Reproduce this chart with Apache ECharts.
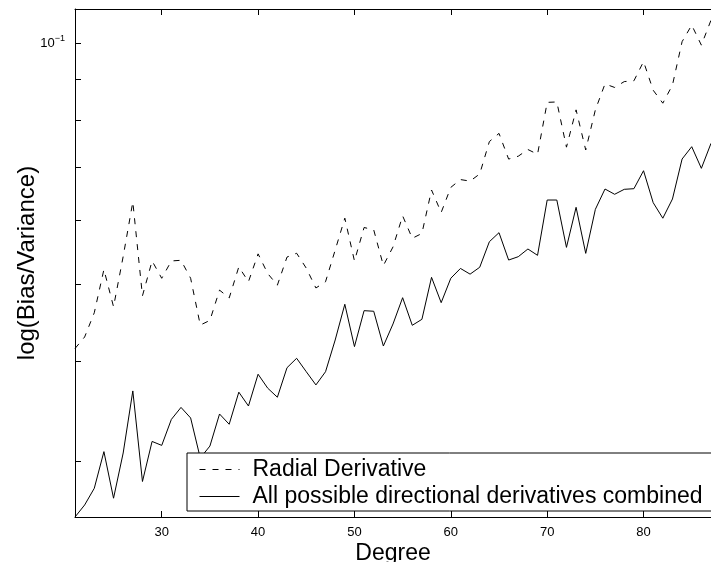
<!DOCTYPE html>
<html>
<head>
<meta charset="utf-8">
<script src="https://cdn.jsdelivr.net/npm/echarts@6/dist/echarts.min.js"></script>
<style>
html,body{margin:0;padding:0;background:#fff;}
#chart{width:711px;height:562px;}
</style>
</head>
<body>
<div id="chart"></div>
<script>
const degrees = [21,22,23,24,25,26,27,28,29,30,31,32,33,34,35,36,37,38,39,40,41,42,43,44,45,46,47,48,49,50,51,52,53,54,55,56,57,58,59,60,61,62,63,64,65,66,67,68,69,70,71,72,73,74,75,76,77,78,79,80,81,82,83,84,85,86,87];
const radialDerivative = [0.0415,0.0429,0.0460,0.0521,0.0468,0.0541,0.0633,0.0483,0.0534,0.0508,0.0534,0.0535,0.0508,0.0444,0.0450,0.0491,0.0480,0.0525,0.0503,0.0545,0.0515,0.0498,0.0540,0.0546,0.0523,0.0494,0.0503,0.0551,0.0604,0.0534,0.0588,0.0584,0.0527,0.0556,0.0608,0.0570,0.0578,0.0655,0.0614,0.0660,0.0675,0.0672,0.0686,0.0753,0.0771,0.0716,0.0722,0.0736,0.0726,0.0843,0.0844,0.0741,0.0825,0.0735,0.0825,0.0889,0.0880,0.0895,0.0897,0.0948,0.0873,0.0841,0.0886,0.1004,0.1053,0.0994,0.1068];
const allCombined = [0.02555,0.02645,0.02775,0.03084,0.02697,0.03072,0.03673,0.02830,0.03176,0.03140,0.03384,0.03503,0.03398,0.03028,0.03134,0.03437,0.03337,0.03660,0.03517,0.03854,0.03702,0.03607,0.03927,0.04035,0.03882,0.03737,0.03882,0.04253,0.04714,0.04173,0.04628,0.04620,0.04180,0.04454,0.04804,0.04437,0.04514,0.05094,0.04736,0.05081,0.05226,0.05141,0.05244,0.05644,0.05793,0.05354,0.05406,0.05527,0.05427,0.06364,0.06364,0.05553,0.06232,0.05458,0.06196,0.06569,0.06470,0.06563,0.06575,0.06924,0.06316,0.06039,0.06383,0.07161,0.07420,0.06972,0.07492];
const xTickValues = [30,40,50,60,70,80];
const yTickValues = [0.03,0.04,0.05,0.06,0.07,0.08,0.09,0.1];
const yLabelValues = [0.1];
const seriesNames = ['Radial Derivative','All possible directional derivatives combined'];

const FONT = 'Liberation Sans, Arial, Helvetica, sans-serif';
const DASH = [6,7];
const chart = echarts.init(document.getElementById('chart'), null, {renderer:'canvas'});
const pair = arr => degrees.map((d,i)=>[d, arr[i]]);

chart.setOption({
  animation:false,
  backgroundColor:'#fff',
  grid:{left:75, top:9, right:0, bottom:45, containLabel:false, outerBoundsMode:'none'},
  legend:{
    left:187, top:453, orient:'vertical',
    data:[
      {name:seriesNames[0], lineStyle:{type:DASH, width:1, color:'#000'}},
      {name:seriesNames[1], lineStyle:{type:'solid', width:1, color:'#000'}}
    ],
    backgroundColor:'#fff', borderColor:'#000', borderWidth:1,
    padding:[5,20,3,12],
    itemWidth:40, itemHeight:14, itemGap:4,
    itemStyle:{opacity:0, borderWidth:0},
    textStyle:{fontFamily:FONT, fontSize:23, color:'#000', padding:[0,0,0,8]}
  },
  xAxis:[{
    type:'value', min:21, max:87, position:'bottom',
    name:'Degree', nameLocation:'middle', nameGap:25, nameMoveOverlap:false,
    nameTextStyle:{fontFamily:FONT, fontSize:23, color:'#000'},
    axisLine:{show:true, onZero:false, lineStyle:{color:'#000', width:1}},
    axisTick:{show:true, inside:true, length:6, customValues:xTickValues, lineStyle:{color:'#000'}},
    axisLabel:{show:true, margin:9, customValues:xTickValues, fontFamily:FONT, fontSize:13, color:'#000'},
    splitLine:{show:false}
  },{
    type:'value', min:21, max:87, position:'top',
    axisLine:{show:true, onZero:false, lineStyle:{color:'#000', width:1}},
    axisTick:{show:true, inside:true, length:6, customValues:xTickValues, lineStyle:{color:'#000'}},
    axisLabel:{show:false},
    splitLine:{show:false}
  }],
  yAxis:{
    type:'log', logBase:10, min:0.02555, max:0.1103,
    name:'log(Bias/Variance)', nameLocation:'middle', nameGap:36, nameMoveOverlap:false,
    nameTextStyle:{fontFamily:FONT, fontSize:24, color:'#000'},
    axisLine:{show:true, onZero:false, lineStyle:{color:'#000', width:1}},
    axisTick:{show:true, inside:true, length:6, customValues:yTickValues, lineStyle:{color:'#000'}},
    axisLabel:{
      show:true, margin:10, customValues:yLabelValues,
      formatter:function(v){ return '{b|10}{s|\u22121}'; },
      rich:{
        b:{fontFamily:FONT, fontSize:13, color:'#000'},
        s:{fontFamily:FONT, fontSize:9, color:'#000', padding:[0,0,9,0]}
      }
    },
    splitLine:{show:false}
  },
  series:[{
    name:seriesNames[0], type:'line', data:pair(radialDerivative),
    showSymbol:false, symbol:'none', xAxisIndex:0,
    lineStyle:{color:'#000', width:1, type:DASH},
    itemStyle:{color:'#000'}
  },{
    name:seriesNames[1], type:'line', data:pair(allCombined),
    showSymbol:false, symbol:'none', xAxisIndex:0,
    lineStyle:{color:'#000', width:1, type:'solid'},
    itemStyle:{color:'#000'}
  }]
});
</script>
</body>
</html>
